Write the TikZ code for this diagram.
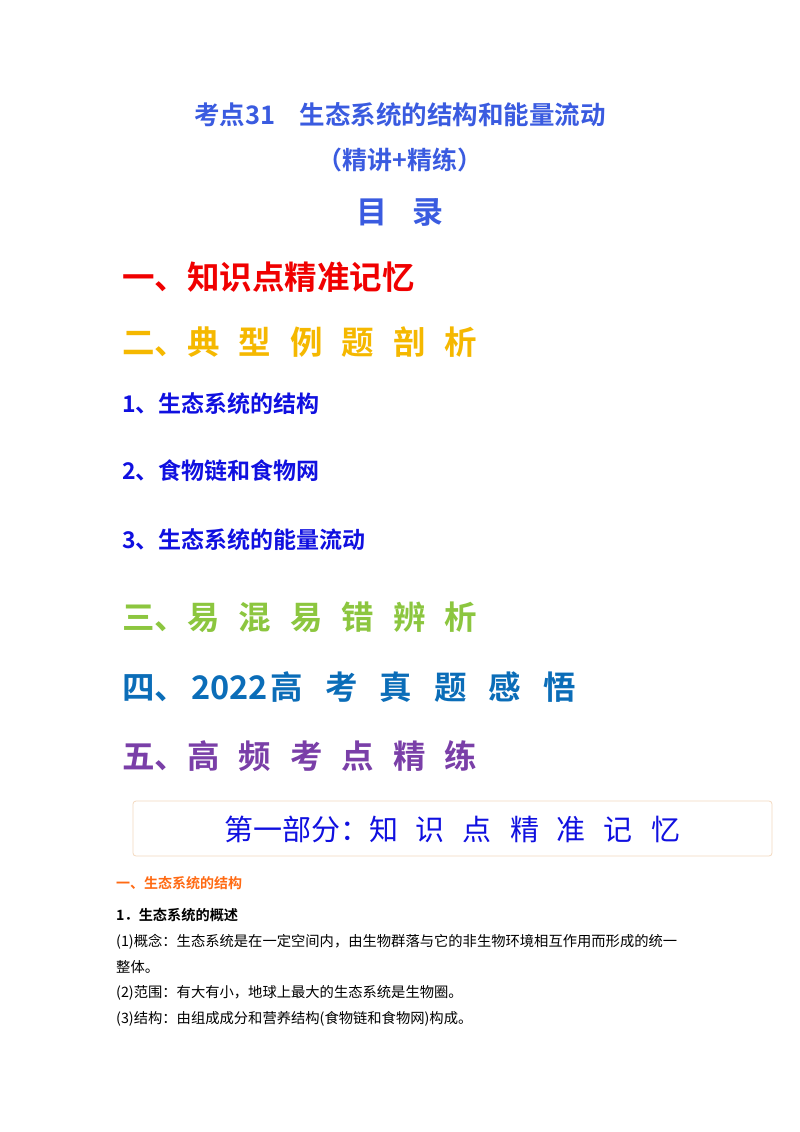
\documentclass[tikz,border=0pt]{standalone}
\usepackage{fontspec}
\newfontfamily\cjk{Noto Sans CJK SC}
\newfontfamily\cjkb{Noto Sans CJK SC Bold}
\definecolor{tblue}{HTML}{3A5BE0}
\definecolor{hred}{HTML}{F00000}
\definecolor{hyel}{HTML}{F5B800}
\definecolor{hblue}{HTML}{1010E0}
\definecolor{hgreen}{HTML}{8CC63F}
\definecolor{hteal}{HTML}{0B6DB8}
\definecolor{hpurp}{HTML}{7A3FA8}
\definecolor{horange}{HTML}{FF6A13}
\definecolor{boxline}{HTML}{F3D9C0}
\tikzset{
 t/.style={anchor=west,inner sep=0pt},
 c/.style={anchor=center,inner sep=0pt},
}
\newcommand{\hg}{\hspace{19pt}}
\begin{document}
\begin{tikzpicture}[x=1pt,y=-1pt]
\useasboundingbox[fill=white] (0,0) rectangle (800,1132);
\node[c,text=tblue,font=\cjkb\fontsize{25.5}{27}\selectfont] (t1) at (400,115) {考点31\hspace{24pt}生态系统的结构和能量流动};
\node[c,text=tblue,font=\cjkb\fontsize{25}{27}\selectfont] (t2) at (400,160) {（精讲+精练）};
\node[c,text=tblue,font=\cjkb\fontsize{31}{33}\selectfont] (t3) at (400,212) {目\hspace{26pt}录};
\node[t,text=hred,font=\cjkb\fontsize{32.5}{34}\selectfont] (h1) at (122,277) {一、知识点精准记忆};
\node[t,text=hyel,font=\cjkb\fontsize{32.5}{34}\selectfont] (h2) at (122,342) {二、典\hg 型\hg 例\hg 题\hg 剖\hg 析};
\node[t,text=hblue,font=\cjkb\fontsize{23}{25}\selectfont] (i1) at (122,404) {1、生态系统的结构};
\node[t,text=hblue,font=\cjkb\fontsize{23}{25}\selectfont] (i2) at (122,471) {2、食物链和食物网};
\node[t,text=hblue,font=\cjkb\fontsize{23}{25}\selectfont] (i3) at (122,540) {3、生态系统的能量流动};
\node[t,text=hgreen,font=\cjkb\fontsize{32.5}{34}\selectfont] (h3) at (122,617) {三、易\hg 混\hg 易\hg 错\hg 辨\hg 析};
\node[t,text=hteal,font=\cjkb\fontsize{32.5}{34}\selectfont] (h4) at (122,687) {四、\hspace{4pt}2022\hspace{3pt}高\hspace{22pt}考\hspace{22pt}真\hspace{22pt}题\hspace{22pt}感\hspace{22pt}悟};
\node[t,text=hpurp,font=\cjkb\fontsize{32.5}{34}\selectfont] (h5) at (122,756) {五、高\hg 频\hg 考\hg 点\hg 精\hg 练};
\draw[boxline,rounded corners=3pt,line width=0.8pt] (133,801) rectangle (772,856);
\node[c,text=hblue,font=\cjk\fontsize{29}{31}\selectfont] (bx) at (452,829) {第一部分：知\hspace{18pt}识\hspace{18pt}点\hspace{18pt}精\hspace{18pt}准\hspace{18pt}记\hspace{18pt}忆};
\node[t,text=horange,font=\cjkb\fontsize{14}{15}\selectfont] (s1) at (116,883) {一、生态系统的结构};
\node[t,font=\cjkb\fontsize{14.2}{15}\selectfont] (p0) at (116,915) {1．生态系统的概述};
\node[t,font=\cjk\fontsize{14.3}{15}\selectfont] (p1) at (116,942) {(1)概念：生态系统是在一定空间内，由生物群落与它的非生物环境相互作用而形成的统一};
\node[t,font=\cjk\fontsize{14.3}{15}\selectfont] (p1b) at (116,967) {整体。};
\node[t,font=\cjk\fontsize{14.3}{15}\selectfont] (p2) at (116,993) {(2)范围：有大有小，地球上最大的生态系统是生物圈。};
\node[t,font=\cjk\fontsize{14.3}{15}\selectfont] (p3) at (116,1019) {(3)结构：由组成成分和营养结构(食物链和食物网)构成。};
\end{tikzpicture}
\end{document}
